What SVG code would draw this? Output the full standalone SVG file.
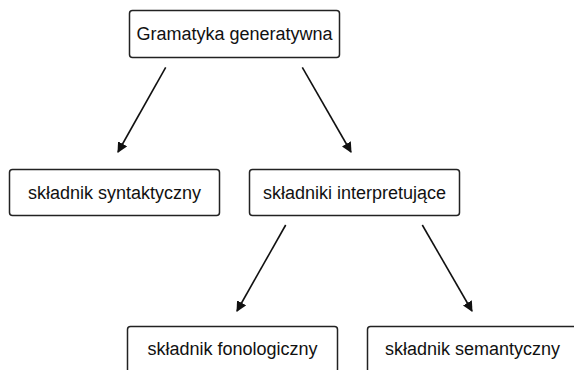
<svg xmlns="http://www.w3.org/2000/svg" width="574" height="370" viewBox="0 0 574 370">
  <style>
    .box { fill: #ffffff; stroke: #222222; stroke-width: 1.5; }
    .lbl { font-family: "Liberation Sans", Arial, sans-serif; font-size: 18px; fill: #111111; text-anchor: middle; }
    .edge { stroke: #111111; stroke-width: 1.6; fill: none; marker-end: url(#arrow); }
  </style>
  <defs>
    <marker id="arrow" viewBox="0 0 10 10" refX="9" refY="5" markerWidth="6.5" markerHeight="6.5" markerUnits="strokeWidth" orient="auto">
      <path d="M0,0 L10,5 L0,10 z" fill="#111111"/>
    </marker>
  </defs>
  <rect width="574" height="370" fill="#ffffff"/>

  <g id="edges">
    <line class="edge" x1="165.7" y1="67.3" x2="118" y2="152"/>
    <line class="edge" x1="302.3" y1="67.3" x2="351" y2="152"/>
    <line class="edge" x1="285.7" y1="225" x2="237" y2="311"/>
    <line class="edge" x1="422.3" y1="225" x2="472" y2="311"/>
  </g>

  <g id="node-gramatyka">
    <rect class="box" x="129.5" y="10.5" width="210" height="47" rx="3"/>
    <text class="lbl" x="234.5" y="40">Gramatyka generatywna</text>
  </g>
  <g id="node-syntaktyczny">
    <rect class="box" x="9.5" y="169.5" width="210" height="46" rx="3"/>
    <text class="lbl" x="114.5" y="198.5">składnik syntaktyczny</text>
  </g>
  <g id="node-interpretujace">
    <rect class="box" x="249.5" y="169.5" width="210" height="46" rx="3"/>
    <text class="lbl" x="354.5" y="198.5">składniki interpretujące</text>
  </g>
  <g id="node-fonologiczny">
    <rect class="box" x="127.5" y="326.5" width="210" height="46" rx="3"/>
    <text class="lbl" x="232.5" y="355">składnik fonologiczny</text>
  </g>
  <g id="node-semantyczny">
    <rect class="box" x="367.5" y="326.5" width="210" height="46" rx="3"/>
    <text class="lbl" x="472.5" y="355">składnik semantyczny</text>
  </g>
</svg>
